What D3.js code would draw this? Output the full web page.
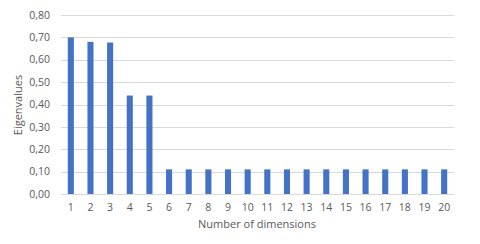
<!DOCTYPE html>
<html><head><meta charset="utf-8">
<script src="https://cdn.jsdelivr.net/npm/d3@7"></script>
<style>body{margin:0;background:#fff;}svg{display:block;}</style>
</head><body>
<svg id="c" width="480" height="244"></svg>
<script>
const dimensions = d3.range(1, 21).map(String);
const eigenvalues = [0.70, 0.68, 0.677, 0.44, 0.44, 0.11, 0.11, 0.11, 0.11, 0.11, 0.11, 0.11, 0.11, 0.11, 0.11, 0.11, 0.11, 0.11, 0.11, 0.11];
const yTicks = [0, 0.1, 0.2, 0.3, 0.4, 0.5, 0.6, 0.7, 0.8];
const xTitle = "Number of dimensions";
const yTitle = "Eigenvalues";

const svg = d3.select("#c");
const mLeft = 61, mRight = 454, mTop = 15, mBottom = 194;
const x = d3.scaleBand().domain(dimensions).range([mLeft, mRight]).paddingInner(0.69).paddingOuter(0.345);
const y = d3.scaleLinear().domain([0, 0.8]).range([mBottom, mTop]);
const fmt = v => d3.format(".2f")(v).replace(".", ",");
const font = "'Open Sans', sans-serif";
const txt = "#595959";

svg.append("g").selectAll("line").data(yTicks).join("line")
  .attr("x1", mLeft).attr("x2", mRight)
  .attr("y1", d => Math.round(y(d)) + 0.5).attr("y2", d => Math.round(y(d)) + 0.5)
  .attr("stroke", "#d9d9d9").attr("stroke-width", 1);

svg.append("g").selectAll("text").data(yTicks).join("text")
  .attr("x", 50).attr("y", d => y(d)).attr("dy", "0.35em")
  .attr("text-anchor", "end").attr("font-family", font).attr("font-size", 10.5)
  .attr("fill", txt).text(fmt);

svg.append("g").selectAll("rect").data(eigenvalues).join("rect")
  .attr("x", (d, i) => x(dimensions[i])).attr("width", x.bandwidth())
  .attr("y", d => y(d)).attr("height", d => y(0) - y(d))
  .attr("fill", "#4472C4");

svg.append("g").selectAll("text").data(dimensions).join("text")
  .attr("x", d => x(d) + x.bandwidth() / 2).attr("y", 207).attr("dy", "0.35em")
  .attr("text-anchor", "middle").attr("font-family", font).attr("font-size", 10.5)
  .attr("fill", txt).text(d => d);

svg.append("text").attr("x", 257).attr("y", 224).attr("dy", "0.35em")
  .attr("text-anchor", "middle").attr("font-family", font).attr("font-size", 11)
  .attr("fill", txt).text(xTitle);

svg.append("text").attr("transform", "translate(18,105) rotate(-90)").attr("dy", "0.35em")
  .attr("text-anchor", "middle").attr("font-family", font).attr("font-size", 11)
  .attr("fill", txt).text(yTitle);
</script>
</body></html>
